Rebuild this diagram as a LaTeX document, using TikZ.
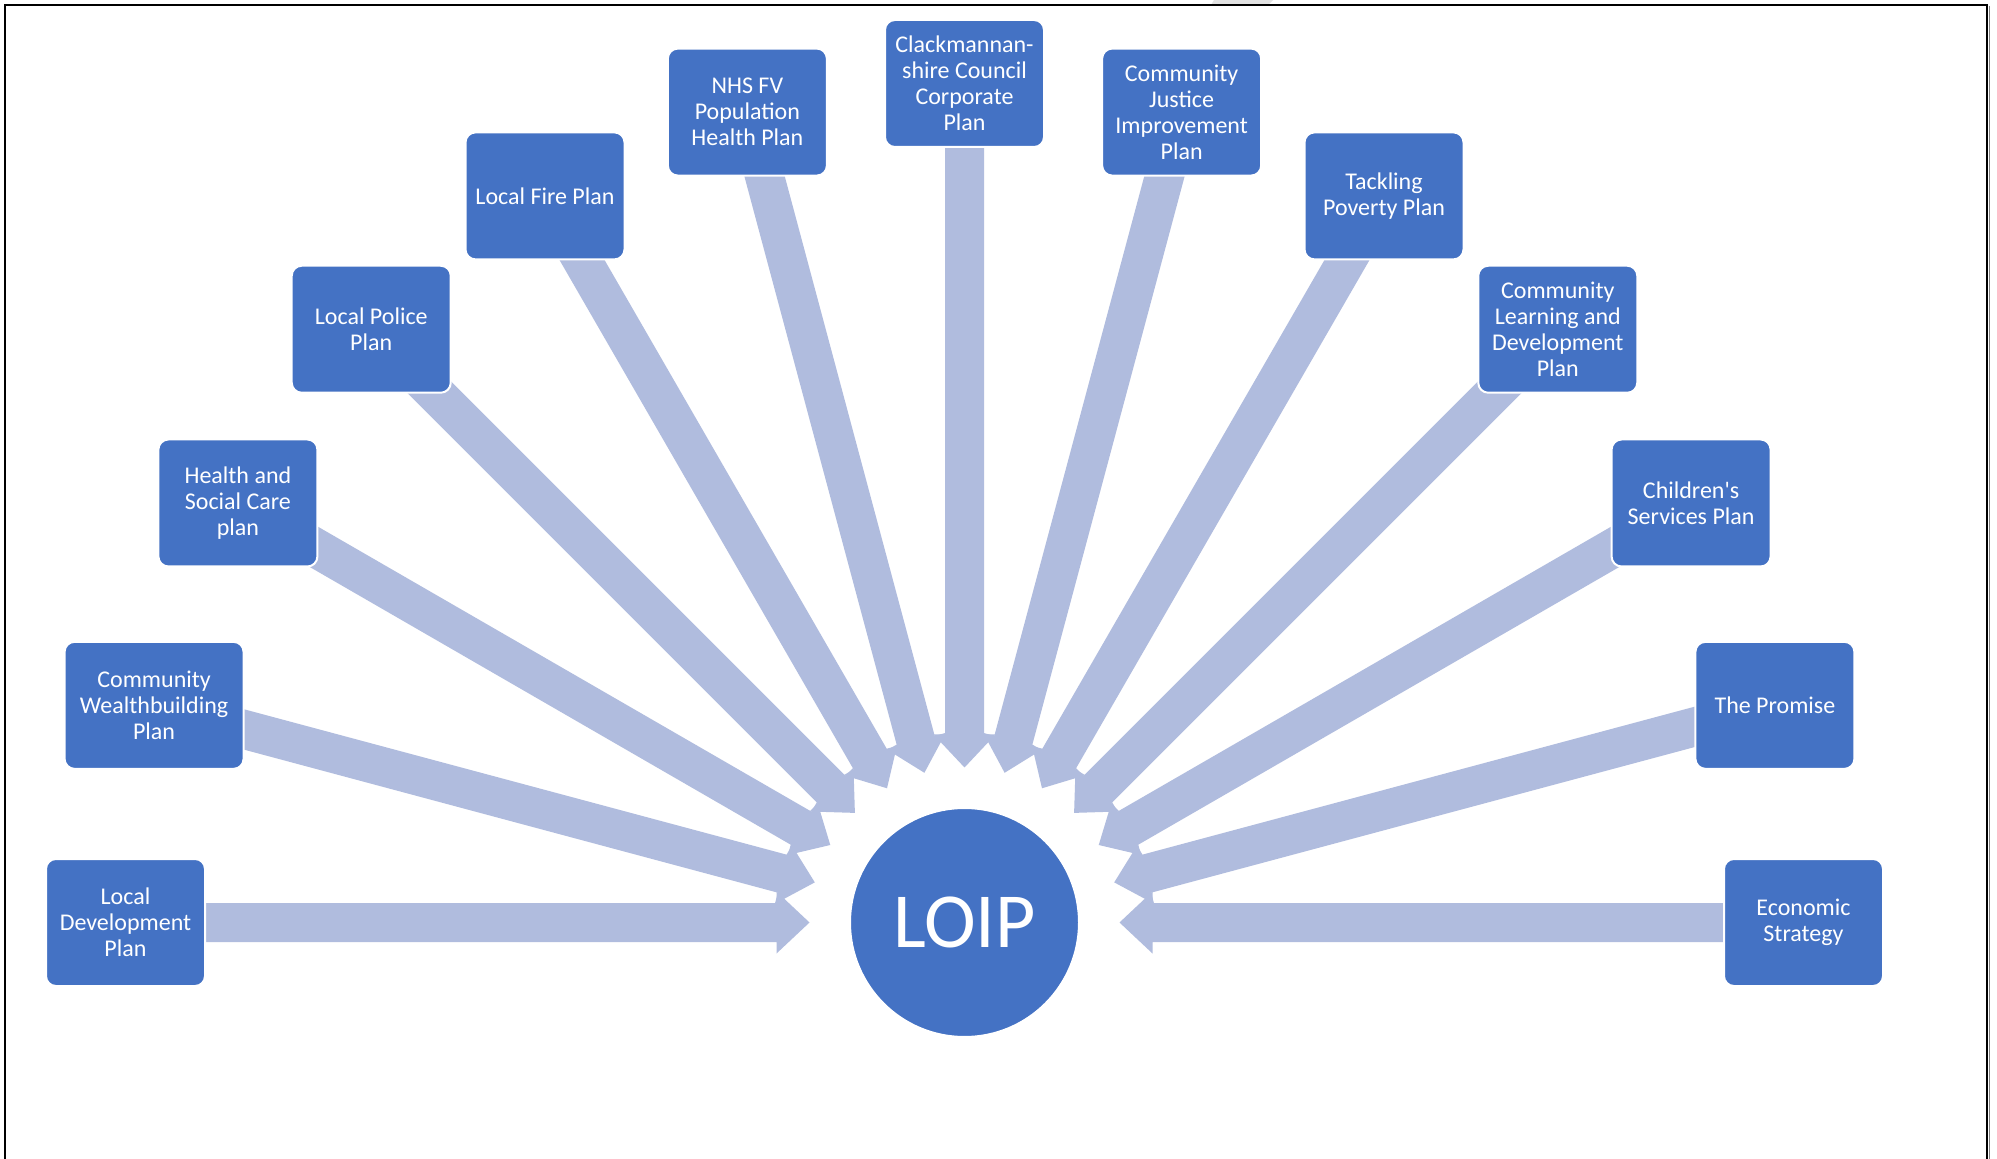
\documentclass[tikz,border=0pt]{standalone}
\usepackage{fontspec}
\setmainfont{Carlito}
\usetikzlibrary{calc}
\pgfdeclarelayer{bg}
\pgfsetlayers{bg,main}
\definecolor{boxblue}{RGB}{68,114,196}
\definecolor{arrowblue}{RGB}{176,188,222}
\definecolor{shadegray}{RGB}{226,226,226}
\newcommand{\planarrow}[1]{%
  \coordinate (tip) at ($(loip.center)!77.5pt!(#1.center)$);
  \coordinate (hb) at ($(loip.center)!94pt!(#1.center)$);
  \fill[arrowshape] (tip)
    -- ($(hb)!15.5pt!90:(#1.center)$)
    -- ($(hb)!9.75pt!90:(#1.center)$)
    -- ($(#1.center)!9.75pt!-90:(loip.center)$)
    -- ($(#1.center)!9.75pt!90:(loip.center)$)
    -- ($(hb)!9.75pt!-90:(#1.center)$)
    -- ($(hb)!15.5pt!-90:(#1.center)$)
    -- cycle;}
\begin{document}
\begin{tikzpicture}[x=0.5pt,y=-0.5pt,
  plan/.style={fill=boxblue, draw=white, line width=1pt, rounded corners=5pt,
    minimum width=79.5pt, minimum height=63.5pt, text=white, align=center,
    font=\fontsize{12}{13}\selectfont, inner sep=2pt},
  hub/.style={circle, fill=boxblue, draw=white, line width=1pt,
    minimum size=114.5pt, text=white, font=\fontsize{39}{44}\selectfont, inner sep=0pt},
  arrowshape/.style={fill=arrowblue, draw=none},
  frameline/.style={draw=black, line width=1pt}]
\useasboundingbox (0,0) rectangle (1997,1159);

\node[hub] (loip) at (964.5,922.5) {LOIP};

\node[plan] (ldp)      at ({964.5-839*cos(0)},{922.5-839*sin(0)})     {Local\\Development\\Plan};
\node[plan, minimum width=89.5pt] (cwb) at ({964.5-839*cos(15)},{922.5-839*sin(15)}) {Community\\Wealthbuilding\\Plan};
\node[plan] (hsc)      at ({964.5-839*cos(30)},{922.5-839*sin(30)})   {Health and\\Social Care\\plan};
\node[plan] (police)   at ({964.5-839*cos(45)},{922.5-839*sin(45)})   {Local Police\\Plan};
\node[plan] (fire)     at ({964.5-839*cos(60)},{922.5-839*sin(60)})   {Local Fire Plan};
\node[plan] (nhs)      at ({964.5-839*cos(75)},{922.5-839*sin(75)})   {NHS FV\\Population\\Health Plan};
\node[plan] (clack)    at ({964.5-839*cos(90)},{922.5-839*sin(90)})   {Clackmannan-\\shire Council\\Corporate\\Plan};
\node[plan] (cjip)     at ({964.5-839*cos(105)},{922.5-839*sin(105)}) {Community\\Justice\\Improvement\\Plan};
\node[plan] (poverty)  at ({964.5-839*cos(120)},{922.5-839*sin(120)}) {Tackling\\Poverty Plan};
\node[plan] (cld)      at ({964.5-839*cos(135)},{922.5-839*sin(135)}) {Community\\Learning and\\Development\\Plan};
\node[plan] (children) at ({964.5-839*cos(150)},{922.5-839*sin(150)}) {Children\textquotesingle s\\Services Plan};
\node[plan] (promise)  at ({964.5-839*cos(165)},{922.5-839*sin(165)}) {The Promise};
\node[plan] (econ)     at ({964.5-839*cos(180)},{922.5-839*sin(180)}) {Economic\\Strategy};

\begin{pgfonlayer}{bg}
  \fill[white] (0,0) rectangle (1997,1159);
  \fill[shadegray] (1214,0) -- (1273,0) -- (1268,5) -- (1211,5) -- cycle;
  \draw[frameline] (5,1159) -- (5,5) -- (1987,5) -- (1987,1159);
  \draw[gray, line width=0.75pt] (1989.5,6) -- (1989.5,1159);
  \foreach \n in {ldp,cwb,hsc,police,fire,nhs,clack,cjip,poverty,cld,children,promise,econ}
    {\planarrow{\n}}
\end{pgfonlayer}
\end{tikzpicture}
\end{document}
